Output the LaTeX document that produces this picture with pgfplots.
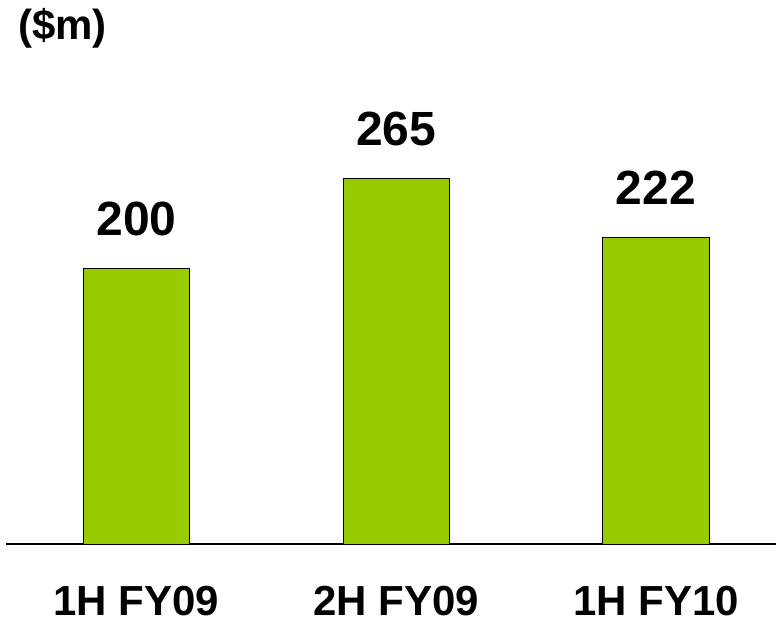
\documentclass[border=0pt]{standalone}
\usepackage{pgfplots}
\pgfplotsset{compat=1.18}
\usepackage{fontspec}
\setmainfont{Liberation Sans}
\definecolor{bargreen}{HTML}{99CC00}
\begin{document}
\begin{tikzpicture}
\useasboundingbox (0,0) rectangle (776pt,625pt);
\begin{axis}[
  at={(6pt,81pt)}, anchor=south west,
  scale only axis,
  width=770pt, height=441.6pt,
  xmin=-0.5024, xmax=2.462,
  ymin=0, ymax=320,
  axis y line=none,
  axis x line*=bottom,
  x axis line style={line width=1.5pt, -},
  xtick={0,1,2},
  xticklabels={1H FY09,2H FY09,1H FY10},
  major tick length=0pt,
  xticklabel style={anchor=base, inner sep=0pt, yshift=-71pt, font=\fontsize{42}{44}\selectfont\bfseries},
  ybar, bar width=106.5pt,
  /pgf/number format/assume math mode=true,
  nodes near coords,
  nodes near coords style={anchor=base, inner sep=0pt, yshift=33pt, font=\fontsize{48}{50}\selectfont\bfseries, black},
  clip=false,
]
\addplot[fill=bargreen, draw=black, line width=1pt, bar shift=0pt] coordinates {(0,200) (1,265) (2,222)};
\end{axis}
\node[anchor=base west, inner sep=0pt, font=\fontsize{42}{44}\selectfont\bfseries] at (18pt,585pt) {(\$m)};
\end{tikzpicture}
\end{document}
